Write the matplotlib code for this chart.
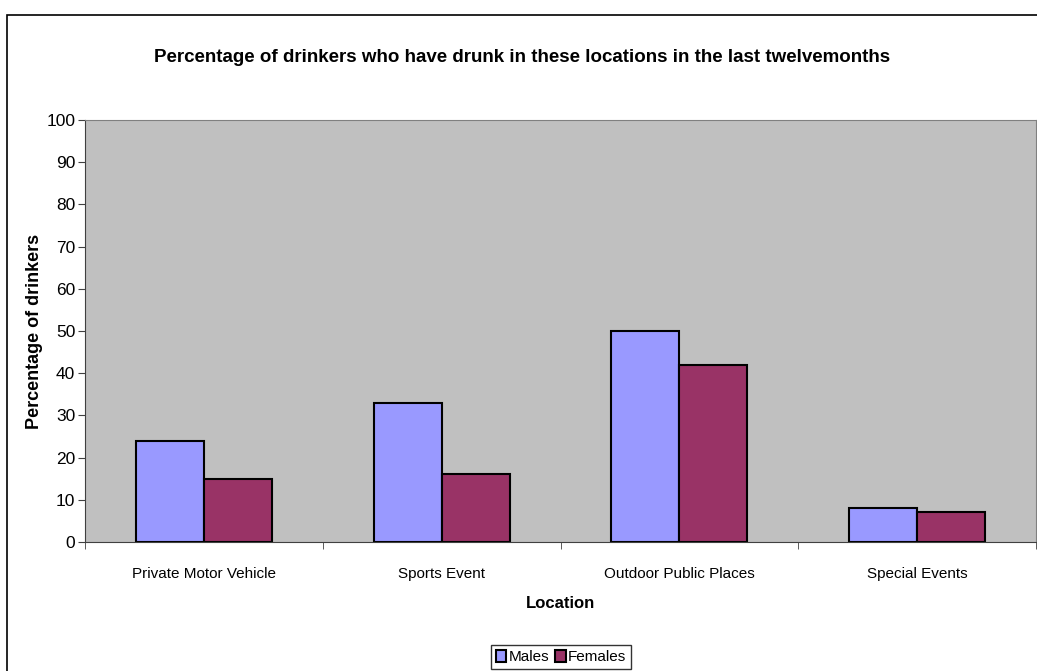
import matplotlib
matplotlib.use('Agg')
import matplotlib.pyplot as plt
import numpy as np

LOCATIONS = ['Private Motor Vehicle', 'Sports Event', 'Outdoor Public Places', 'Special Events']
MALES = [24, 33, 50, 8]
FEMALES = [15, 16, 42, 7]
Y_TICKS = list(range(0, 101, 10))

plt.rcParams['font.family'] = ['Liberation Sans', 'DejaVu Sans']

fig = plt.figure(figsize=(10.37, 6.71), dpi=100)
ax = fig.add_axes([85 / 1037, 1 - 542 / 671, 951 / 1037, 422 / 671])

# outer chart border (right and bottom edges fall outside the picture)
fig.patches.append(plt.Rectangle((7 / 1037, -0.05), 1.1, 1 - 15 / 671 + 0.05,
                                 transform=fig.transFigure, fill=False,
                                 edgecolor='black', linewidth=1.2))

x = np.arange(len(LOCATIONS))
w = 0.286
ax.bar(x - w / 2, MALES, w, color='#9999FF', edgecolor='black', linewidth=1.5, label='Males')
ax.bar(x + w / 2, FEMALES, w, color='#993366', edgecolor='black', linewidth=1.5, label='Females')

ax.set_facecolor('#C0C0C0')
ax.set_xlim(-0.5, 3.5)
ax.set_ylim(0, 100)
ax.set_yticks(Y_TICKS)
ax.tick_params(axis='y', labelsize=12.5, length=5, color='#404040', pad=2)
ax.set_xticks(x)
ax.set_xticklabels(LOCATIONS, fontsize=11)
ax.set_xticks(np.arange(-0.5, 4, 1), minor=True)
ax.tick_params(axis='x', which='major', length=0, pad=18)
ax.tick_params(axis='x', which='minor', length=5, color='#404040')
for s in ['left', 'bottom']:
    ax.spines[s].set_color('#404040')
for s in ['top', 'right']:
    ax.spines[s].set_color('#808080')

ax.set_ylabel('Percentage of drinkers', fontsize=13, fontweight='bold', labelpad=2)
ax.set_xlabel('Location', fontsize=12, fontweight='bold', labelpad=11)
fig.text(0.5 + 4 / 1037, 1 - 58 / 671,
         'Percentage of drinkers who have drunk in these locations in the last twelvemonths',
         ha='center', va='center', fontsize=13.5, fontweight='bold')

leg = fig.legend(loc='center', bbox_to_anchor=(561 / 1037, 1 - 657 / 671), ncol=2,
                 fontsize=11, frameon=True, fancybox=False, handlelength=0.7, handleheight=0.9,
                 handletextpad=0.15, columnspacing=0.4, borderpad=0.3)
leg.get_frame().set_edgecolor('black')
leg.get_frame().set_linewidth(1)

fig.savefig('out.png', dpi=100)
